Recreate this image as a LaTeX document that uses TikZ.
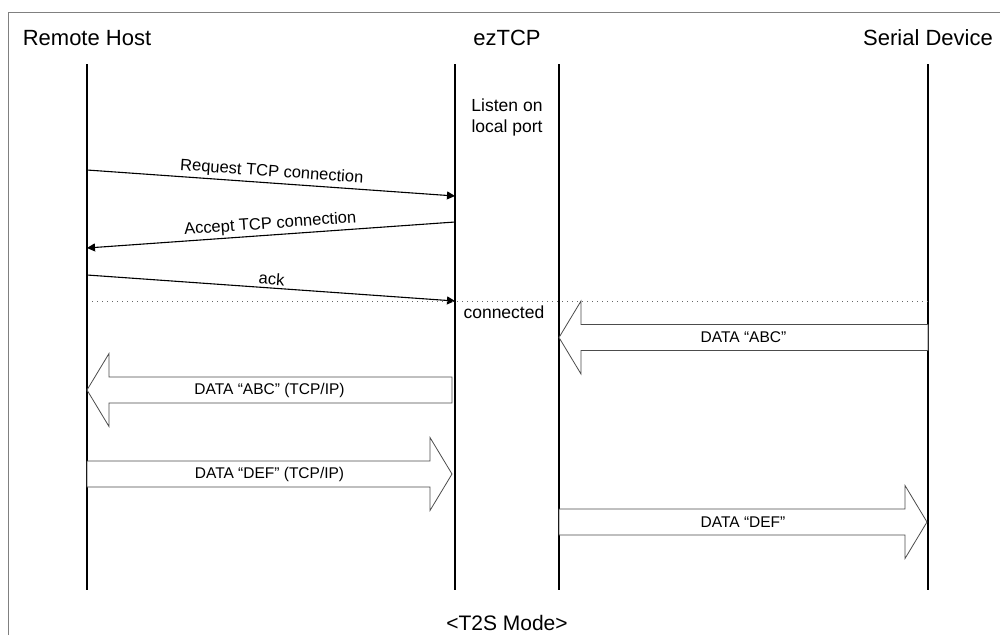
\documentclass[tikz,border=0pt]{standalone}
\usepackage{fontspec}
\setmainfont{Liberation Sans}
\usetikzlibrary{arrows.meta,calc}

\tikzset{
  title/.style={anchor=base, font=\fontsize{22}{24}\selectfont},
  note/.style={font=\fontsize{17.5}{21}\selectfont, align=center},
  lifeline/.style={line width=1.9pt},
  msg/.style={line width=1.1pt, -{Triangle[length=8pt,width=8pt]}},
  msglabel/.style={midway, above, sloped, inner sep=2.5pt, font=\fontsize{16.5}{18}\selectfont},
  fatarrow/.style={draw=black!70, fill=white, line width=0.8pt},
  fatlabel/.style={font=\fontsize{15.5}{17}\selectfont}
}
\newcommand{\fatmsg}[3]{%
  \draw[fatarrow] let \p1=(#1), \p2=(#2), \n1={\x2-((\x2>\x1)?22:-22)} in
    (\x1,\y1-13pt) -- (\n1,\y1-13pt) -- (\n1,\y1-36.5pt) -- (\x2,\y1)
    -- (\n1,\y1+36.5pt) -- (\n1,\y1+13pt) -- (\x1,\y1+13pt) -- cycle;
  \node[fatlabel] at ($(#1)!0.5!(#2)$) {#3};
}

\begin{document}
\begin{tikzpicture}[x=1pt, y=-1pt]
    \useasboundingbox (0,0) rectangle (1000,635);
    \draw[gray, line width=0.8pt] (8,635) -- (8,12) -- (1000,12);
    \node[title] (host) at (87,45) {Remote Host};
    \node[title] (eztcp) at (507,45) {ezTCP};
    \node[title] (serial) at (928,45) {Serial Device};
    \coordinate (hostT) at (87,64);   \coordinate (hostB) at (87,590);
    \coordinate (ezLT) at (455,64);   \coordinate (ezLB) at (455,590);
    \coordinate (ezRT) at (559,64);   \coordinate (ezRB) at (559,590);
    \coordinate (serT) at (928,64);   \coordinate (serB) at (928,590);
    \draw[lifeline] (hostT) -- (hostB);
    \draw[lifeline] (ezLT) -- (ezLB);
    \draw[lifeline] (ezRT) -- (ezRB);
    \draw[lifeline] (serT) -- (serB);
    \node[note] (listen) at (507,117) {Listen on\\local port};
    \coordinate (req1) at (87,170);  \coordinate (req2) at (455,196);
    \coordinate (acc1) at (455,222); \coordinate (acc2) at (87,248);
    \coordinate (ack1) at (87,275);  \coordinate (ack2) at (455,301);
    \draw[msg] (req1) -- (req2) node[msglabel] {Request TCP connection};
    \draw[msg] (acc1) -- (acc2) node[msglabel] {Accept TCP connection};
    \draw[msg] (ack1) -- (ack2) node[msglabel] {ack};
    \coordinate (dot1) at (92,301); \coordinate (dot2) at (928,301);
    \draw[black!60, line width=0.8pt, dash pattern=on 0.8pt off 4.2pt] (dot1) -- (dot2);
    \node[note, anchor=west] (conn) at (460,312) {connected};
    \coordinate (abc1) at (928,337.5); \coordinate (abc2) at (559,337.5);
    \coordinate (abcip1) at (452,390); \coordinate (abcip2) at (87,390);
    \coordinate (defip1) at (87,474);  \coordinate (defip2) at (452,474);
    \coordinate (def1) at (559,522);   \coordinate (def2) at (927,522);
    \fatmsg{abc1}{abc2}{DATA “ABC”}
    \fatmsg{abcip1}{abcip2}{DATA “ABC” (TCP/IP)}
    \fatmsg{defip1}{defip2}{DATA “DEF” (TCP/IP)}
    \fatmsg{def1}{def2}{DATA “DEF”}
    \node[font=\fontsize{21}{24}\selectfont] (mode) at (507,623) {<T2S Mode>};
\end{tikzpicture}
\end{document}
